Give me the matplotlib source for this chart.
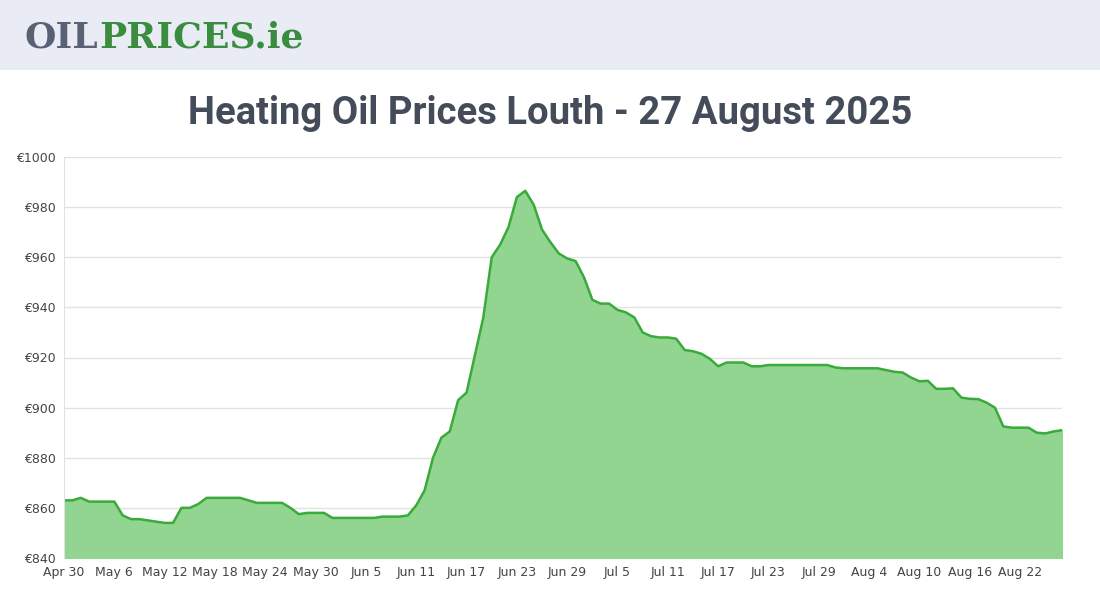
import numpy as np
import pandas as pd
import matplotlib
matplotlib.use('Agg')
import matplotlib.pyplot as plt
from matplotlib.patches import Rectangle

# %% podaci

start_date = '2025-04-30'
prices = [
    863, 863, 864, 862.5, 862.5, 862.5, 862.5, 857, 855.5, 855.5,
    855, 854.5, 854, 854, 860, 860, 861.5, 864, 864, 864,
    864, 864, 863, 862, 862, 862, 862, 860, 857.5, 858,
    858, 858, 856, 856, 856, 856, 856, 856, 856.5, 856.5,
    856.5, 857, 861, 867, 880, 888, 890.5, 903, 906, 921,
    936, 960, 965, 972, 984, 986.5, 981, 971, 966, 961.5,
    959.5, 958.5, 952, 943, 941.5, 941.5, 939, 938, 936, 930,
    928.5, 928, 928, 927.5, 923, 922.5, 921.5, 919.5, 916.5, 918,
    918, 918, 916.5, 916.5, 917, 917, 917, 917, 917, 917,
    917, 917, 916, 915.7, 915.7, 915.7, 915.7, 915.7, 915, 914.3,
    914, 912, 910.5, 910.7, 907.5, 907.5, 907.7, 904, 903.5, 903.4,
    902, 900, 892.5, 892, 892, 892, 890, 889.7, 890.5, 891,
]
y_ticks = [840, 860, 880, 900, 920, 940, 960, 980, 1000]
tick_step = 6

dates = pd.date_range(start_date, periods=len(prices), freq='D')
x = np.arange(len(prices))
tick_pos = [p for p in x[::tick_step] if p <= len(prices) - 4]
tick_labels = [f"{dates[p].strftime('%b')} {dates[p].day}" for p in tick_pos]

# %% grafik

fig = plt.figure(figsize=(11, 6), dpi=100)
fig.patch.set_facecolor('white')

# zaglavlje
fig.patches.append(Rectangle((0, 530/600), 1, 70/600, transform=fig.transFigure,
                             facecolor='#e9ecf4', edgecolor='none', zorder=0))
fig.text(24/1100, 1 - 38/600, 'OIL', fontfamily='DejaVu Serif', fontweight='heavy',
         fontsize=26, color='#596274', va='center', ha='left')
fig.text(99/1100, 1 - 38/600, 'PRICES.ie', fontfamily='DejaVu Serif', fontweight='heavy',
         fontsize=26, color='#3a8c3e', va='center', ha='left')

fig.text(0.5, 1 - 113/600, 'Heating Oil Prices Louth - 27 August 2025',
         fontfamily='Roboto', fontweight='bold',
         fontsize=27.5, color='#444c5a', ha='center', va='center')

ax = fig.add_axes([64/1100, 42/600, 998/1100, 401/600])
ax.fill_between(x, 840, prices, color='#92d591', zorder=1)
ax.plot(x, prices, color='#3aab3a', linewidth=1.8, zorder=2)

ax.set_xlim(0, len(prices) - 1)
ax.set_ylim(840, 1000)
ax.set_yticks(y_ticks)
ax.set_yticklabels([f'€{v}' for v in y_ticks])
ax.set_xticks(tick_pos)
ax.set_xticklabels(tick_labels)
ax.tick_params(axis='both', labelsize=9, colors='#444444', length=0, pad=6)
ax.grid(axis='y', color='#e2e2e2', linewidth=1, zorder=0)
ax.grid(axis='x', visible=False)
for side in ['top', 'right', 'bottom']:
    ax.spines[side].set_visible(False)
ax.spines['left'].set_color('#e2e2e2')
ax.set_axisbelow(True)

fig.savefig('out.png', dpi=100)
